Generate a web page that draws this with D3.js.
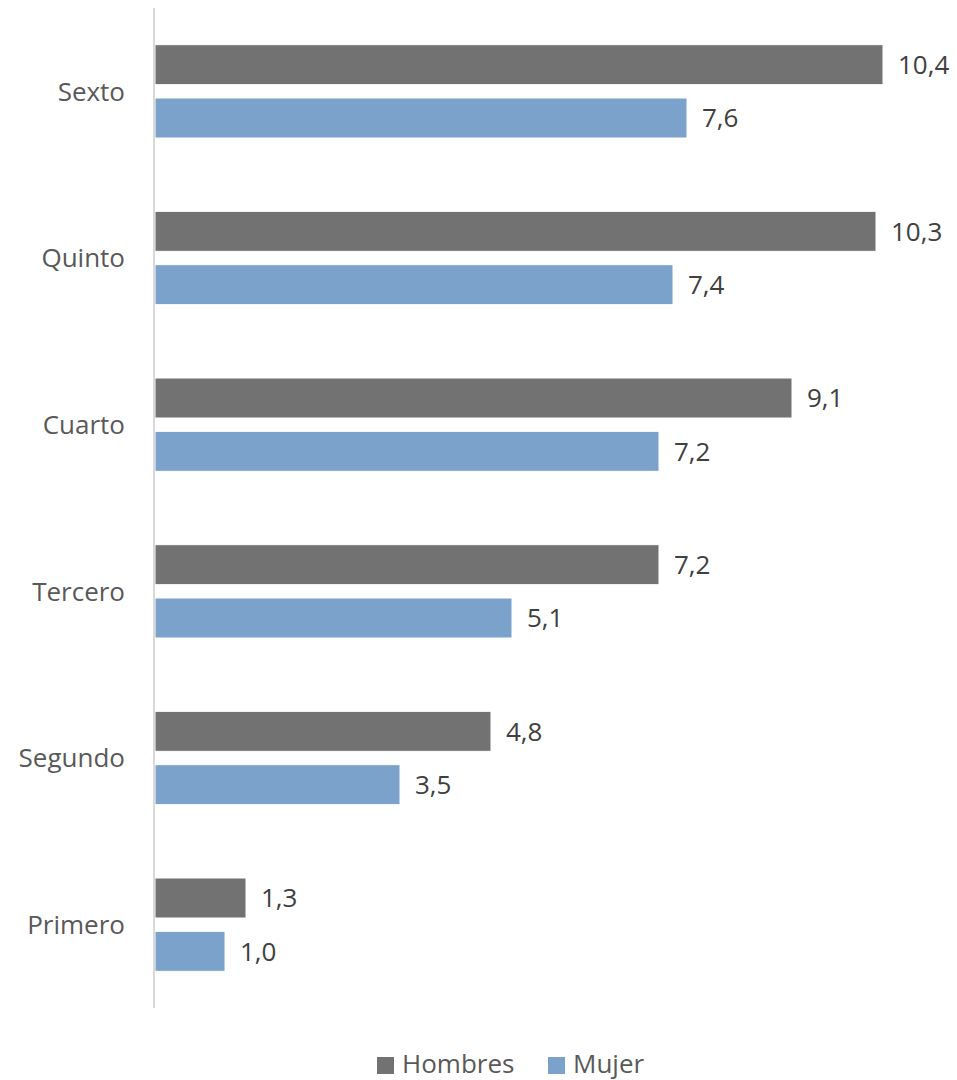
<!DOCTYPE html>
<html>
<head>
<meta charset="utf-8">
<script src="https://cdn.jsdelivr.net/npm/d3@7"></script>
<style>
  body { margin: 0; background: #fff; }
  text { font-family: "Open Sans", sans-serif; }
</style>
</head>
<body>
<svg id="chart" width="957" height="1080"></svg>
<script>
// data
var categories = ["Sexto", "Quinto", "Cuarto", "Tercero", "Segundo", "Primero"];
var hombres = [10.4, 10.3, 9.1, 7.2, 4.8, 1.3];
var mujer = [7.6, 7.4, 7.2, 5.1, 3.5, 1.0];
var seriesNames = ["Hombres", "Mujer"];
var seriesColors = ["#727272", "#7aa2cb"];

var svg = d3.select("#chart");

var plotLeft = 155, plotTop = 8, plotBottom = 1008;
var fontSize = 26;

var x = d3.scaleLinear()
    .domain([0, 10.4])
    .range([plotLeft, 883]);

var y = d3.scaleBand()
    .domain(categories)
    .range([plotTop, plotBottom])
    .paddingInner(0.44)
    .paddingOuter(0.22);

var ySub = d3.scaleBand()
    .domain(seriesNames)
    .range([0, y.bandwidth()])
    .paddingInner(0.25);

var rows = categories.map(function(c, i) {
  return { cat: c, values: [hombres[i], mujer[i]] };
});

var fmt = function(v) { return d3.format(".1f")(v).replace(".", ","); };

var groups = svg.append("g").selectAll("g")
    .data(rows)
    .enter().append("g")
    .attr("transform", function(d) { return "translate(0," + y(d.cat) + ")"; });

groups.selectAll("rect")
    .data(function(d) { return d.values; })
    .enter().append("rect")
    .attr("x", x(0))
    .attr("y", function(d, i) { return ySub(seriesNames[i]); })
    .attr("width", function(d) { return x(d) - x(0); })
    .attr("height", ySub.bandwidth())
    .attr("fill", function(d, i) { return seriesColors[i]; })
    .attr("stroke", "#fff")
    .attr("stroke-width", 1);

groups.selectAll("text.val")
    .data(function(d) { return d.values; })
    .enter().append("text")
    .attr("class", "val")
    .attr("x", function(d) { return x(d) + 15; })
    .attr("y", function(d, i) { return ySub(seriesNames[i]) + ySub.bandwidth() / 2; })
    .attr("dy", "0.36em")
    .attr("font-size", fontSize)
    .attr("fill", "#404040")
    .text(fmt);

// category labels
svg.append("g").selectAll("text")
    .data(categories)
    .enter().append("text")
    .attr("x", 125)
    .attr("y", function(d) { return y(d) + y.bandwidth() / 2; })
    .attr("dy", "0.36em")
    .attr("text-anchor", "end")
    .attr("font-size", fontSize)
    .attr("fill", "#595959")
    .text(function(d) { return d; });

// vertical axis line
svg.append("line")
    .attr("x1", plotLeft - 1).attr("x2", plotLeft - 1)
    .attr("y1", plotTop).attr("y2", plotBottom)
    .attr("stroke", "#d9d9d9")
    .attr("stroke-width", 2);

// legend
var legend = svg.append("g").attr("transform", "translate(0,1063)");
var legendX = [377, 548];
var items = legend.selectAll("g")
    .data(seriesNames)
    .enter().append("g")
    .attr("transform", function(d, i) { return "translate(" + legendX[i] + ",0)"; });

items.append("rect")
    .attr("x", 0).attr("y", -6)
    .attr("width", 17).attr("height", 17)
    .attr("fill", function(d, i) { return seriesColors[i]; });

items.append("text")
    .attr("x", 25)
    .attr("y", 1)
    .attr("dy", "0.36em")
    .attr("font-size", fontSize)
    .attr("fill", "#595959")
    .text(function(d) { return d; });
</script>
</body>
</html>
